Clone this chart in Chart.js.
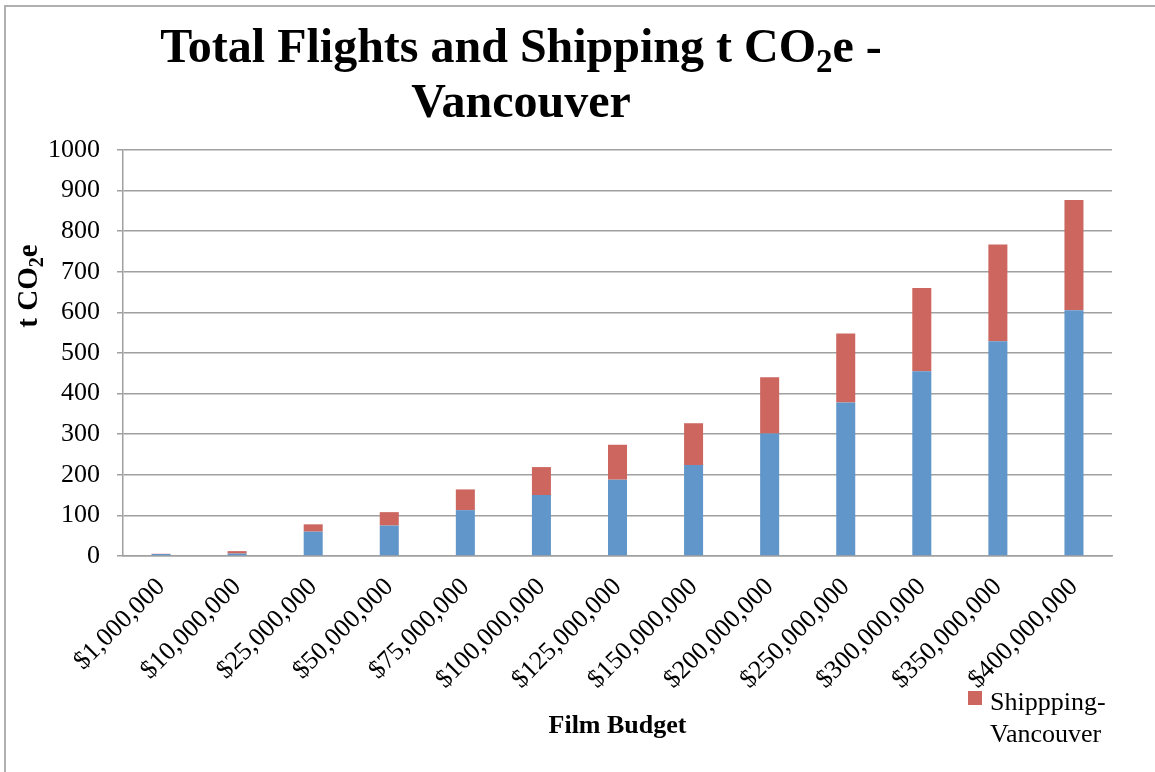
<!DOCTYPE html>
<html lang="en">
<head>
    <meta charset="UTF-8">
    <title>Total Flights and Shipping t CO2e - Vancouver</title>
    <script src="https://cdn.jsdelivr.net/npm/chart.js"></script>
    <style>
        body { margin: 0; background: #fff; }
    </style>
</head>
<body>
    <canvas id="myChart" width="1155" height="772"></canvas>
    <script>
        // Film budget categories
        const budgets = ['$1,000,000', '$10,000,000', '$25,000,000', '$50,000,000', '$75,000,000',
            '$100,000,000', '$125,000,000', '$150,000,000', '$200,000,000', '$250,000,000',
            '$300,000,000', '$350,000,000', '$400,000,000'];

        // t CO2e
        const flights = [5, 6, 60, 75, 113, 150, 188, 224, 302, 378, 455, 529, 605];
        const shipping = [0.5, 6, 18, 33, 51, 69, 86, 103, 138, 170, 205, 238, 272];

        const serif = "'Liberation Serif', 'Times New Roman', serif";
        const gridGrey = '#a0a0a0';

        // draw text with a subscript part: parts = [[text, isSub], ...]
        function drawParts(ctx, parts, cx, y, size) {
            const normal = 'bold ' + size + 'px ' + serif;
            const small = 'bold ' + Math.round(size * 0.68) + 'px ' + serif;
            let w = 0;
            parts.forEach(p => { ctx.font = p[1] ? small : normal; w += ctx.measureText(p[0]).width; });
            let x = cx - w / 2;
            parts.forEach(p => {
                ctx.font = p[1] ? small : normal;
                ctx.fillText(p[0], x, p[1] ? y + size * 0.2 : y);
                x += ctx.measureText(p[0]).width;
            });
        }

        const decorations = {
            id: 'decorations',
            beforeDraw(chart) {
                const ctx = chart.ctx;
                ctx.save();
                ctx.fillStyle = '#fff';
                ctx.fillRect(0, 0, chart.width, chart.height);
                ctx.strokeStyle = '#b0b0b0';
                ctx.lineWidth = 2;
                ctx.strokeRect(5, 6, chart.width + 10, chart.height + 10);
                ctx.restore();
            },
            afterDraw(chart) {
                const ctx = chart.ctx;
                ctx.save();
                ctx.fillStyle = '#000';
                ctx.textBaseline = 'alphabetic';
                ctx.textAlign = 'left';

                // chart title
                drawParts(ctx, [['Total Flights and Shipping t CO', false], ['2', true], ['e -', false]], 521, 62, 48);
                drawParts(ctx, [['Vancouver', false]], 521, 117, 48);

                // y axis title
                ctx.save();
                ctx.translate(37, 286);
                ctx.rotate(-Math.PI / 2);
                drawParts(ctx, [['t CO', false], ['2', true], ['e', false]], 0, 0, 29);
                ctx.restore();

                // legend (shipping only)
                const ds = chart.data.datasets[1];
                ctx.fillStyle = ds.backgroundColor;
                ctx.fillRect(968, 691, 14, 14);
                ctx.fillStyle = '#000';
                ctx.font = '26px ' + serif;
                const lines = ds.label.replace('-', '-\n').split('\n');
                lines.forEach((t, i) => ctx.fillText(t, 990, 710 + i * 32));
                ctx.restore();
            }
        };

        const ctx = document.getElementById('myChart').getContext('2d');

        new Chart(ctx, {
            type: 'bar',
            data: {
                labels: budgets,
                datasets: [{
                    label: 'Flights-Vancouver',
                    data: flights,
                    backgroundColor: '#6096c9',
                    categoryPercentage: 0.5,
                    barPercentage: 0.5
                }, {
                    label: 'Shippping-Vancouver',
                    data: shipping,
                    backgroundColor: '#cd665f',
                    categoryPercentage: 0.5,
                    barPercentage: 0.5
                }]
            },
            options: {
                responsive: false,
                animation: false,
                layout: {
                    padding: { top: 150, left: 0, right: 43, bottom: 10 }
                },
                scales: {
                    x: {
                        stacked: true,
                        afterFit: s => { s.height = 206; },
                        grid: { display: false, drawTicks: false },
                        border: { display: true, color: gridGrey, width: 1.5 },
                        ticks: {
                            color: '#000',
                            font: { family: serif, size: 26 },
                            minRotation: 45,
                            maxRotation: 45,
                            padding: 16,
                            autoSkip: false
                        },
                        title: {
                            display: true,
                            text: 'Film Budget',
                            color: '#000',
                            font: { family: serif, size: 26, weight: 'bold' },
                            padding: { top: 4, bottom: 20 }
                        }
                    },
                    y: {
                        stacked: true,
                        min: 0,
                        max: 1000,
                        afterFit: s => { s.width = 123; },
                        grid: { color: gridGrey, lineWidth: 1.5, tickLength: 6 },
                        border: { display: true, color: gridGrey, width: 1.5 },
                        ticks: {
                            stepSize: 100,
                            color: '#000',
                            font: { family: serif, size: 26 },
                            padding: 17,
                            callback: v => String(v)
                        }
                    }
                },
                plugins: {
                    legend: { display: false },
                    tooltip: { enabled: false }
                }
            },
            plugins: [decorations]
        });
    </script>
</body>
</html>
